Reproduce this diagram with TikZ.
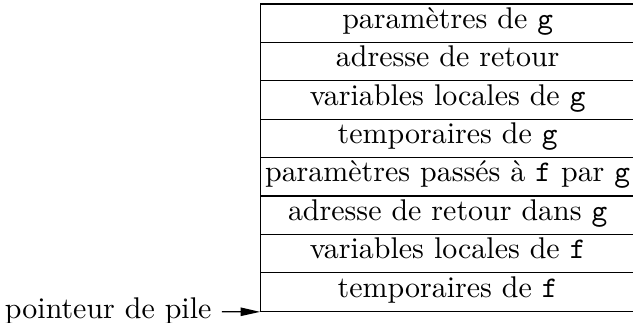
\documentclass[tikz,border=0pt]{standalone}
\usepackage{tikz}
\usetikzlibrary{arrows.meta,positioning}

\begin{document}
\begin{tikzpicture}[
  slot/.style={draw,line width=0.4pt,minimum width=4.387cm,minimum height=0.4506cm,
               text height=7pt,text depth=3.6pt,inner sep=0pt,align=center},
  pointer/.style={-{Triangle[length=6.5pt,width=2.8pt]},line width=0.4pt},
]
\useasboundingbox (0,0) rectangle (7.428,3.790);
\node[slot] (param)   at (5.253,3.5168) {paramètres de \texttt{g}};
\node[slot] (retour)  at (5.253,3.0662) {adresse de retour};
\node[slot] (locg)    at (5.253,2.6156) {variables locales de \texttt{g}};
\node[slot] (tempg)   at (5.253,2.1650) {temporaires de \texttt{g}};
\node[slot] (paramf)  at (5.253,1.7144) {paramètres passés à \texttt{f} par \texttt{g}};
\node[slot] (retourg) at (5.253,1.2638) {adresse de retour dans \texttt{g}};
\node[slot] (locf)    at (5.253,0.8132) {variables locales de \texttt{f}};
\node[slot] (tempf)   at (5.253,0.3626) {temporaires de \texttt{f}};
\node[anchor=east] (pile) at (2.605,0.137) {pointeur de pile};
\draw[pointer] (pile) -- (tempf.south west);
\end{tikzpicture}
\end{document}
